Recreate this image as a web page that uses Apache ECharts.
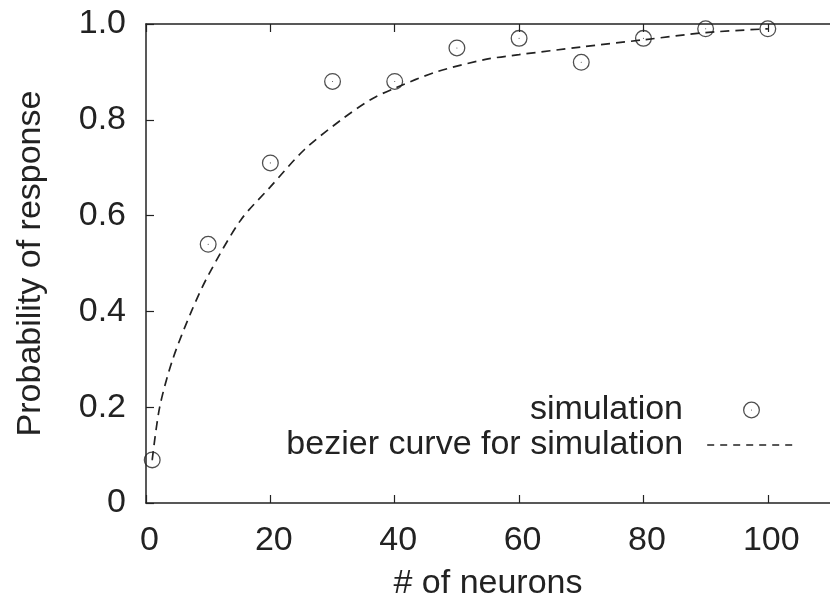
<!DOCTYPE html>
<html>
<head>
<meta charset="utf-8">
<script src="https://cdn.jsdelivr.net/npm/echarts@6/dist/echarts.min.js"></script>
<style>
  html, body { margin: 0; padding: 0; background: #fff; }
  #chart { width: 830px; height: 606px; }
</style>
</head>
<body>
<div id="chart"></div>
<script>
// simulation points
const simX = [1, 10, 20, 30, 40, 50, 60, 70, 80, 90, 100];
const simY = [0.09, 0.54, 0.71, 0.88, 0.88, 0.95, 0.97, 0.92, 0.97, 0.99, 0.99];

// bezier curve
const curveX = [1, 2.2, 4.3, 7.3, 10, 15.2, 20, 25.5, 31.4, 36.1, 40, 46.7, 54.6, 60, 70, 80, 90, 100];
const curveY = [0.09, 0.2, 0.3, 0.4, 0.475, 0.59, 0.66, 0.738, 0.8, 0.842, 0.866, 0.9, 0.926, 0.936, 0.952, 0.967, 0.982, 0.99];

const xTicks = [0, 20, 40, 60, 80, 100];

const ink = '#222';
const font = 'Liberation Sans';
const fs = 34;
const ring = 'path://M10 0A10 10 0 1 1 10 20A10 10 0 1 1 10 0ZM10 1.5A8.5 8.5 0 1 0 10 18.5A8.5 8.5 0 1 0 10 1.5ZM9.35 10A0.65 0.65 0 1 1 10.65 10A0.65 0.65 0 1 1 9.35 10Z';

const chart = echarts.init(document.getElementById('chart'));

const axisLine = { show: true, lineStyle: { color: ink, width: 1.5 } };
const tick = { show: true, inside: true, length: 8, lineStyle: { color: ink, width: 1.2 } };

chart.setOption({
    animation: false,
    textStyle: { fontFamily: font },
    grid: { left: 146, top: 24, width: 693, height: 481 },
    legend: [
        {
            data: [{ name: 'simulation', icon: ring }],
            right: 70, top: 393, padding: 0,
            align: 'right', itemWidth: 17, itemHeight: 17,
            textStyle: { fontSize: fs, color: ink, fontFamily: font, lineHeight: 34, padding: [0, 55, 0, 0] }
        },
        {
            data: ['bezier curve for simulation'],
            right: 32, top: 428, padding: 0,
            align: 'right', itemWidth: 90, itemHeight: 14,
            itemStyle: { color: 'rgba(0,0,0,0)', borderWidth: 0 },
            lineStyle: { width: 1.6, type: [7, 6] },
            textStyle: { fontSize: fs, color: ink, fontFamily: font, lineHeight: 34, padding: [0, 19, 0, 0] }
        }
    ],
    xAxis: [
        {
            type: 'value', min: 0, max: 110, position: 'bottom',
            name: '# of neurons', nameLocation: 'middle', nameGap: 64,
            nameTextStyle: { fontSize: fs, color: ink, fontFamily: font },
            axisLine: axisLine,
            axisTick: Object.assign({ customValues: xTicks }, tick),
            axisLabel: { customValues: xTicks, fontSize: fs, color: ink, margin: 21, fontFamily: font, padding: [0, 0, 0, 7] },
            splitLine: { show: false }
        },
        {
            type: 'value', min: 0, max: 110, position: 'top',
            axisLine: axisLine,
            axisTick: Object.assign({ customValues: xTicks }, tick),
            axisLabel: { show: false },
            splitLine: { show: false }
        }
    ],
    yAxis: {
        type: 'value', min: 0, max: 1, interval: 0.2,
        name: 'Probability of response', nameLocation: 'middle', nameGap: 98,
        nameTextStyle: { fontSize: fs, color: ink, fontFamily: font },
        axisLine: axisLine,
        axisTick: tick,
        axisLabel: {
            fontSize: fs, color: ink, margin: 20, fontFamily: font,
            formatter: v => (v === 0 ? '0' : v.toFixed(1))
        },
        splitLine: { show: false }
    },
    series: [
        {
            name: 'bezier curve for simulation',
            type: 'line',
            data: curveX.map((x, i) => [x, curveY[i]]),
            smooth: 0.3,
            symbol: 'none',
            lineStyle: { color: ink, width: 1.7, type: [9, 6] },
            itemStyle: { color: ink },
            z: 2
        },
        {
            name: 'simulation',
            type: 'scatter',
            data: simX.map((x, i) => [x, simY[i]]),
            symbol: ring,
            symbolSize: 17,
            itemStyle: { color: ink },
            z: 3
        }
    ]
});
</script>
</body>
</html>
